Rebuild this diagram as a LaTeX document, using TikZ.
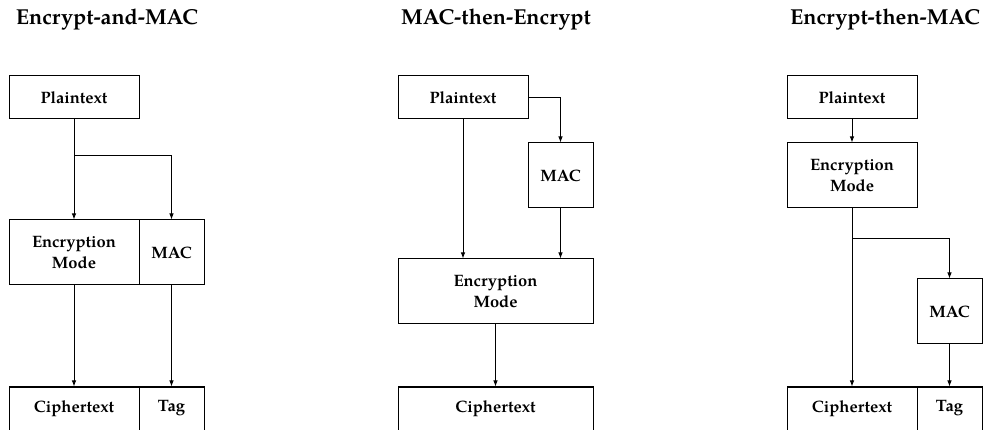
\documentclass[tikz,border=0pt]{standalone}
\usepackage{fontspec}
\setmainfont{TeX Gyre Pagella}
\usetikzlibrary{arrows.meta}
\begin{document}
\begin{tikzpicture}[x=1pt,y=-1pt,
  box/.style={draw,line width=1pt,inner sep=0pt,align=center,
    font=\bfseries\fontsize{16.5}{21.5}\selectfont},
  wbox/.style={box,minimum width=130pt},
  nbox/.style={box,minimum width=65pt},
  xbox/.style={box,minimum width=195pt},
  shortb/.style={minimum height=43pt},
  tallb/.style={minimum height=65pt},
  ttl/.style={anchor=base,inner sep=0pt,font=\bfseries\fontsize{21.6}{26}\selectfont},
  arr/.style={line width=0.9pt,-{Latex[length=6pt,width=4.5pt]}}]
\useasboundingbox (0,0) rectangle (983,430);
% titles
\node[ttl] (t1title) at (107,25) {Encrypt-and-MAC};
\node[ttl] (t2title) at (496,25) {MAC-then-Encrypt};
\node[ttl] (t3title) at (885,25) {Encrypt-then-MAC};
% panel 1
\node[wbox,shortb] (p1) at (74,97.5) {Plaintext};
\node[wbox,tallb] (e1) at (74,252.5) {Encryption\\Mode};
\node[nbox,tallb] (m1) at (171.5,252.5) {MAC};
\node[wbox,shortb] (c1) at (74,408.5) {Ciphertext};
\node[nbox,shortb] (g1) at (171.5,408.5) {Tag};
\coordinate (b1) at (74,155);
\draw[arr] (p1.south) -- (e1.north);
\draw[arr] (b1) -| (m1.north);
\draw[arr] (e1.south) -- (c1.north);
\draw[arr] (m1.south) -- (g1.north);
% panel 2
\node[wbox,shortb] (p2) at (463,97.5) {Plaintext};
\node[nbox,tallb] (m2) at (560.5,175.5) {MAC};
\node[xbox,tallb] (e2) at (495.5,291.5) {Encryption\\Mode};
\node[xbox,shortb] (c2) at (495.5,408.5) {Ciphertext};
\draw[arr] (p2.east) -| (m2.north);
\draw[arr] (p2.south) -- (p2.south |- e2.north);
\draw[arr] (m2.south) -- (m2.south |- e2.north);
\draw[arr] (e2.south) -- (c2.north);
% panel 3
\node[wbox,shortb] (p3) at (852,97.5) {Plaintext};
\node[wbox,tallb] (e3) at (852,175.5) {Encryption\\Mode};
\node[nbox,tallb] (m3) at (949.5,311.5) {MAC};
\node[wbox,shortb] (c3) at (852,408.5) {Ciphertext};
\node[nbox,shortb] (g3) at (949.5,408.5) {Tag};
\coordinate (b3) at (852,238);
\draw[arr] (p3.south) -- (e3.north);
\draw[arr] (e3.south) -- (c3.north);
\draw[arr] (b3) -| (m3.north);
\draw[arr] (m3.south) -- (g3.north);
\end{tikzpicture}
\end{document}
